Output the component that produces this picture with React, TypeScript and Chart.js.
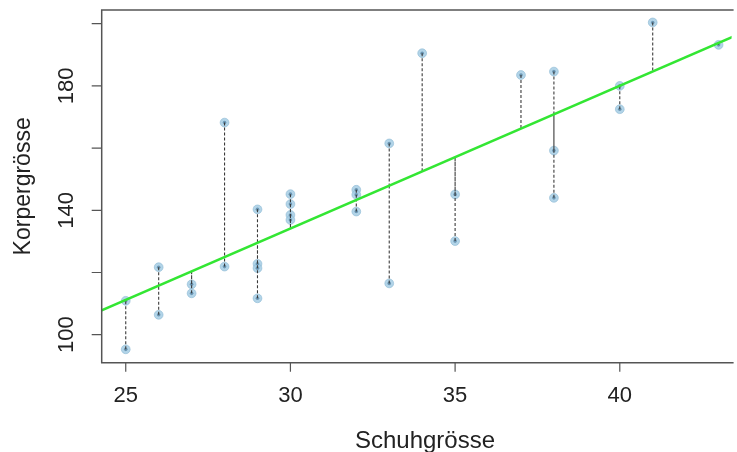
import React, { useEffect, useRef } from "react";
import { Chart, registerables } from "chart.js";

Chart.register(...registerables);

// Data
const shoeSize: number[] = [25, 25, 26, 26, 27, 27, 28, 28, 29, 29, 29, 29, 30, 30, 30, 30, 32, 32, 32, 33, 33, 34, 35, 35, 37, 38, 38, 38, 40, 40, 41, 43];
const bodyHeight: number[] = [110.9, 95.3, 121.7, 106.4, 116.2, 113.3, 121.9, 168.2, 140.3, 122.8, 121.4, 111.7, 145.2, 142.0, 138.5, 136.9, 146.6, 145.0, 139.6, 116.5, 161.5, 190.5, 145.1, 130.1, 183.5, 184.6, 159.2, 144.0, 180.0, 172.5, 200.4, 193.2];

// Fitted line
const fitIntercept = -3.55;
const fitSlope = 4.59;

const xTicks: number[] = [25, 30, 35, 40];
const yTicks: number[] = [100, 120, 140, 160, 180, 200];
const yTickLabels: number[] = [100, 140, 180];

const xTitle = "Schuhgrösse";
const yTitle = "Korpergrösse";

const FAMILY = '"Liberation Sans", Arial, Helvetica, sans-serif';

const fit = (x: number) => fitIntercept + fitSlope * x;

const axesPlugin = {
  id: "rAxes",
  afterDraw(chart: any) {
    const { ctx, chartArea } = chart;
    const xs = chart.scales.x;
    const ys = chart.scales.y;
    const { left, top, right, bottom } = chartArea;
    ctx.save();
    ctx.strokeStyle = "#555";
    ctx.lineWidth = 1.5;
    ctx.beginPath();
    ctx.moveTo(right + 2, top);
    ctx.lineTo(left, top);
    ctx.lineTo(left, bottom);
    ctx.lineTo(right + 2, bottom);
    ctx.stroke();
    ctx.lineWidth = 1.2;
    ctx.beginPath();
    xTicks.forEach((v) => {
      const px = xs.getPixelForValue(v);
      ctx.moveTo(px, bottom);
      ctx.lineTo(px, bottom + 9);
    });
    yTicks.forEach((v) => {
      const py = ys.getPixelForValue(v);
      ctx.moveTo(left, py);
      ctx.lineTo(left - 10, py);
    });
    ctx.stroke();
    ctx.fillStyle = "#222";
    ctx.font = "22px " + FAMILY;
    ctx.textAlign = "center";
    ctx.textBaseline = "middle";
    xTicks.forEach((v) => {
      ctx.fillText(String(v), xs.getPixelForValue(v), 396);
    });
    yTickLabels.forEach((v) => {
      ctx.save();
      ctx.translate(67, ys.getPixelForValue(v));
      ctx.rotate(-Math.PI / 2);
      ctx.fillText(String(v), 0, 0);
      ctx.restore();
    });
    ctx.font = "24px " + FAMILY;
    ctx.fillText(xTitle, 425, 441);
    ctx.save();
    ctx.font = "23px " + FAMILY;
    ctx.translate(24, (top + bottom) / 2);
    ctx.rotate(-Math.PI / 2);
    ctx.fillText(yTitle, 0, 0);
    ctx.restore();
    ctx.restore();
  },
};

export default function App() {
  const ref = useRef<HTMLCanvasElement | null>(null);
  useEffect(() => {
    document.body.style.margin = "0";
    const points = shoeSize.map((x, i) => ({ x, y: bodyHeight[i] }));
    const residuals: any[] = [];
    shoeSize.forEach((x, i) => {
      residuals.push({ x, y: bodyHeight[i] });
      residuals.push({ x, y: fit(x) });
      residuals.push({ x, y: null });
    });
    const lineX = [24, 44];
    const fitLine = lineX.map((x) => ({ x, y: fit(x) }));
    const chart = new Chart(ref.current as HTMLCanvasElement, {
      type: "scatter",
      data: {
        datasets: [
          {
            label: "halo",
            data: points,
            pointRadius: 4.4,
            pointBackgroundColor: "rgba(165,205,228,0.85)",
            pointBorderColor: "rgba(140,185,212,0.6)",
            pointBorderWidth: 1,
            showLine: false,
            order: 4,
          },
          {
            label: "core",
            data: points,
            pointRadius: 1.8,
            pointBackgroundColor: "rgba(95,140,170,0.85)",
            pointBorderWidth: 0,
            showLine: false,
            order: 3,
          },
          {
            label: "residuals",
            data: residuals,
            showLine: true,
            spanGaps: false,
            borderColor: "#3a3a3a",
            borderWidth: 1.1,
            borderDash: [3, 2],
            pointRadius: 0,
            order: 2,
          },
          {
            label: "fit",
            data: fitLine,
            showLine: true,
            borderColor: "#33e633",
            borderWidth: 2.4,
            pointRadius: 0,
            order: 1,
          },
        ],
      },
      options: {
        responsive: false,
        animation: false,
        layout: { padding: { left: 101.7, top: 10, right: 0, bottom: 89.3 } },
        plugins: { legend: { display: false }, tooltip: { enabled: false } },
        scales: {
          x: { type: "linear", min: 24.27, max: 43.395, display: false },
          y: { type: "linear", min: 91.0, max: 204.4, display: false },
        },
      },
      plugins: [axesPlugin],
    });
    return () => chart.destroy();
  }, []);
  return (
    <div style={{ position: "fixed", left: 0, top: 0, width: 737, height: 452, overflow: "hidden", background: "#fff" }}>
      <canvas ref={ref} width={737} height={452} style={{ display: "block" }} />
    </div>
  );
}
